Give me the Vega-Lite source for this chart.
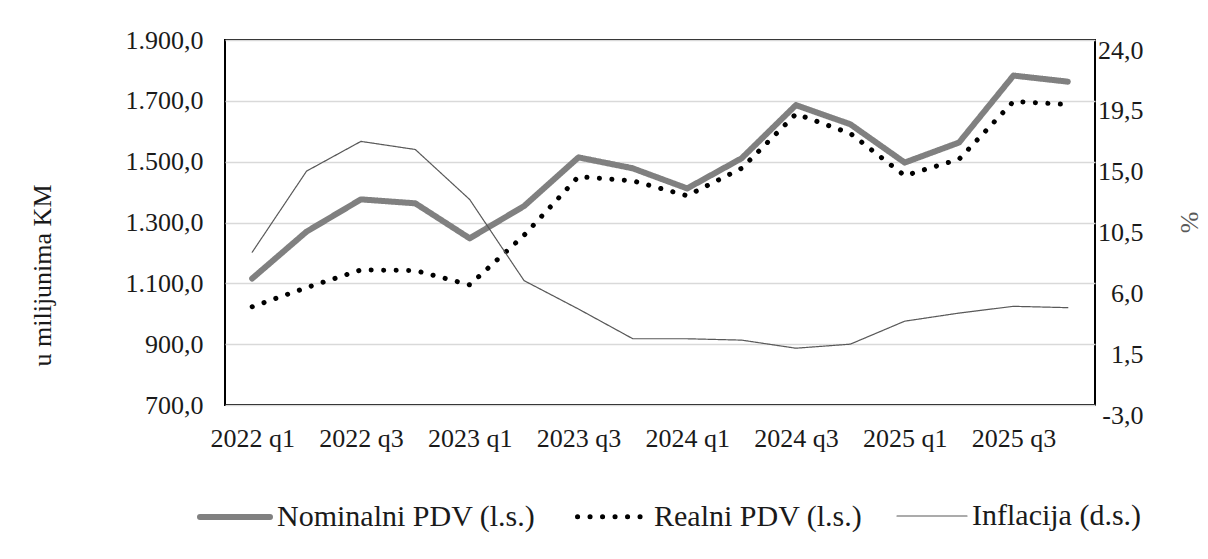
{
  "$schema": "https://vega.github.io/schema/vega-lite/v6.json",
  "width": 870,
  "height": 365,
  "autosize": {"type": "none"},
  "padding": {"left": 225, "top": 40, "right": 113, "bottom": 154},
  "background": "white",
  "config": {
    "locale": {"number": {"decimal": ",", "thousands": ".", "grouping": [3], "currency": ["", ""], "minus": "-"}},
    "view": {"stroke": "#000000", "strokeWidth": 2},
    "font": "Liberation Serif",
    "axis": {
      "labelFont": "Liberation Serif", "labelFontSize": 26, "labelColor": "#1a1a1a",
      "titleFont": "Liberation Serif", "titleFontSize": 26, "titleFontWeight": "normal", "titleColor": "#1a1a1a",
      "domain": false, "ticks": false, "tickSize": 0,
      "gridColor": "#d9d9d9", "gridWidth": 1.5
    },
    "legend": {
      "orient": "none", "legendX": -28, "legendY": 439, "direction": "horizontal",
      "symbolType": "stroke", "symbolSize": 4900,
      "labelFont": "Liberation Serif", "labelFontSize": 30, "labelColor": "#1a1a1a",
      "labelOffset": 4, "labelLimit": 400, "columnPadding": 31, "padding": 0
    }
  },
  "data": {"values": [
    {"q": "2022 q1", "s": "Nominalni PDV (l.s.)", "v": 1116},
    {"q": "2022 q2", "s": "Nominalni PDV (l.s.)", "v": 1270},
    {"q": "2022 q3", "s": "Nominalni PDV (l.s.)", "v": 1376},
    {"q": "2022 q4", "s": "Nominalni PDV (l.s.)", "v": 1363},
    {"q": "2023 q1", "s": "Nominalni PDV (l.s.)", "v": 1248},
    {"q": "2023 q2", "s": "Nominalni PDV (l.s.)", "v": 1354},
    {"q": "2023 q3", "s": "Nominalni PDV (l.s.)", "v": 1514},
    {"q": "2023 q4", "s": "Nominalni PDV (l.s.)", "v": 1478},
    {"q": "2024 q1", "s": "Nominalni PDV (l.s.)", "v": 1412},
    {"q": "2024 q2", "s": "Nominalni PDV (l.s.)", "v": 1511},
    {"q": "2024 q3", "s": "Nominalni PDV (l.s.)", "v": 1686},
    {"q": "2024 q4", "s": "Nominalni PDV (l.s.)", "v": 1623},
    {"q": "2025 q1", "s": "Nominalni PDV (l.s.)", "v": 1497},
    {"q": "2025 q2", "s": "Nominalni PDV (l.s.)", "v": 1563},
    {"q": "2025 q3", "s": "Nominalni PDV (l.s.)", "v": 1783},
    {"q": "2025 q4", "s": "Nominalni PDV (l.s.)", "v": 1763},
    {"q": "2022 q1", "s": "Realni PDV (l.s.)", "v": 1023},
    {"q": "2022 q2", "s": "Realni PDV (l.s.)", "v": 1086},
    {"q": "2022 q3", "s": "Realni PDV (l.s.)", "v": 1144},
    {"q": "2022 q4", "s": "Realni PDV (l.s.)", "v": 1142},
    {"q": "2023 q1", "s": "Realni PDV (l.s.)", "v": 1095},
    {"q": "2023 q2", "s": "Realni PDV (l.s.)", "v": 1258},
    {"q": "2023 q3", "s": "Realni PDV (l.s.)", "v": 1451},
    {"q": "2023 q4", "s": "Realni PDV (l.s.)", "v": 1437},
    {"q": "2024 q1", "s": "Realni PDV (l.s.)", "v": 1388},
    {"q": "2024 q2", "s": "Realni PDV (l.s.)", "v": 1478},
    {"q": "2024 q3", "s": "Realni PDV (l.s.)", "v": 1657},
    {"q": "2024 q4", "s": "Realni PDV (l.s.)", "v": 1593},
    {"q": "2025 q1", "s": "Realni PDV (l.s.)", "v": 1454},
    {"q": "2025 q2", "s": "Realni PDV (l.s.)", "v": 1508},
    {"q": "2025 q3", "s": "Realni PDV (l.s.)", "v": 1698},
    {"q": "2025 q4", "s": "Realni PDV (l.s.)", "v": 1688},
    {"q": "2022 q1", "s": "Inflacija (d.s.)", "v": 8.3},
    {"q": "2022 q2", "s": "Inflacija (d.s.)", "v": 14.3},
    {"q": "2022 q3", "s": "Inflacija (d.s.)", "v": 16.5},
    {"q": "2022 q4", "s": "Inflacija (d.s.)", "v": 15.9},
    {"q": "2023 q1", "s": "Inflacija (d.s.)", "v": 12.2},
    {"q": "2023 q2", "s": "Inflacija (d.s.)", "v": 6.2},
    {"q": "2023 q3", "s": "Inflacija (d.s.)", "v": 4.1},
    {"q": "2023 q4", "s": "Inflacija (d.s.)", "v": 1.9},
    {"q": "2024 q1", "s": "Inflacija (d.s.)", "v": 1.9},
    {"q": "2024 q2", "s": "Inflacija (d.s.)", "v": 1.8},
    {"q": "2024 q3", "s": "Inflacija (d.s.)", "v": 1.2},
    {"q": "2024 q4", "s": "Inflacija (d.s.)", "v": 1.5},
    {"q": "2025 q1", "s": "Inflacija (d.s.)", "v": 3.2},
    {"q": "2025 q2", "s": "Inflacija (d.s.)", "v": 3.8},
    {"q": "2025 q3", "s": "Inflacija (d.s.)", "v": 4.3},
    {"q": "2025 q4", "s": "Inflacija (d.s.)", "v": 4.2}
  ]},
  "encoding": {
    "x": {
      "field": "q", "type": "ordinal", "sort": null,
      "axis": {
        "values": ["2022 q1", "2022 q3", "2023 q1", "2023 q3", "2024 q1", "2024 q3", "2025 q1", "2025 q3"],
        "labelAngle": 0, "labelPadding": 20, "labelBaseline": "top", "title": null, "grid": false
      }
    },
    "color": {
      "field": "s", "type": "nominal",
      "scale": {"domain": ["Nominalni PDV (l.s.)", "Realni PDV (l.s.)", "Inflacija (d.s.)"], "range": ["#808080", "#000000", "#595959"]},
      "legend": {"title": null, "symbolType": "stroke", "symbolSize": 4900, "encode": {"symbols": {"update": {"strokeCap": {"value": "round"}}}}}
    },
    "strokeDash": {
      "field": "s", "type": "nominal",
      "scale": {"domain": ["Nominalni PDV (l.s.)", "Realni PDV (l.s.)", "Inflacija (d.s.)"], "range": [[1, 0], [0.1, 12.4], [1, 0]]},
      "legend": {"title": null}
    },
    "strokeWidth": {
      "field": "s", "type": "ordinal",
      "scale": {"type": "ordinal", "domain": ["Nominalni PDV (l.s.)", "Realni PDV (l.s.)", "Inflacija (d.s.)"], "range": [6, 5, 1.2]},
      "legend": {"title": null}
    }
  },
  "layer": [
    {
      "transform": [{"filter": "datum.s !== 'Inflacija (d.s.)'"}],
      "mark": {"type": "line", "strokeCap": "round", "strokeJoin": "round"},
      "encoding": {
        "y": {
          "field": "v", "type": "quantitative",
          "scale": {"domain": [700, 1900], "zero": false, "nice": false},
          "axis": {
            "values": [700, 900, 1100, 1300, 1500, 1700, 1900], "format": ",.1f",
            "title": "u milijunima KM", "titleX": -175, "titleY": 235, "titleAngle": -90,
            "titleAlign": "center", "titleBaseline": "alphabetic", "labelPadding": 22
          }
        }
      }
    },
    {
      "transform": [{"filter": "datum.s === 'Inflacija (d.s.)'"}],
      "mark": {"type": "line", "strokeCap": "round", "strokeJoin": "round"},
      "encoding": {
        "y": {
          "field": "v", "type": "quantitative",
          "scale": {"domain": [-3, 24], "zero": false, "nice": false},
          "axis": {
            "orient": "right", "values": [-3, 1.5, 6, 10.5, 15, 19.5, 24], "format": ",.1f", "grid": false,
            "title": "%", "titleX": 102, "titleY": 182, "titleAngle": -90, "titleAlign": "center",
            "titleBaseline": "alphabetic", "titleColor": "#595959",
            "labelAlign": "right", "labelPadding": 48, "labelBaseline": "top", "labelOffset": -3
          }
        }
      }
    }
  ],
  "resolve": {"scale": {"y": "independent"}}
}
